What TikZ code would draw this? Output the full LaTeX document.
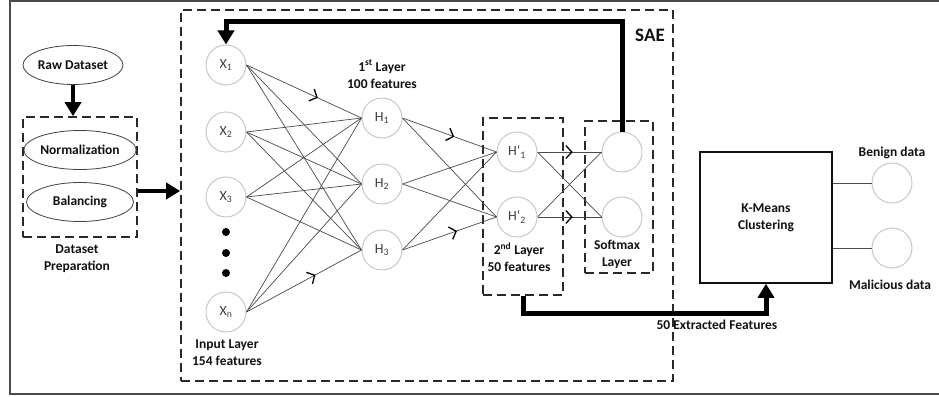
\documentclass[tikz,border=0pt]{standalone}
\usepackage{fontspec}
\setmainfont{Carlito}
\usetikzlibrary{calc, positioning, shapes.geometric, arrows.meta, decorations.markings}
\definecolor{ink}{HTML}{111111}
\definecolor{rim}{HTML}{C8C8C8}
\definecolor{greyt}{HTML}{3F3F3F}
\definecolor{edge}{HTML}{4A4A4A}

\begin{document}
\begin{tikzpicture}[x=1pt, y=-1pt,
    every node/.style={font=\fontsize{13.5}{17}\selectfont\bfseries, text=ink, align=center},
    neuron/.style={circle, draw=rim, line width=1pt, fill=white, minimum size=40pt, inner sep=0pt, font=\fontsize{14}{16}\selectfont, text=greyt},
    oval/.style={ellipse, draw=ink!80, line width=0.8pt, minimum height=39pt, inner sep=0pt},
    dashbox/.style={draw=ink!90, line width=1.6pt, dash pattern=on 9pt off 5pt, inner sep=0pt},
    dotn/.style={circle, fill=black, minimum size=8pt, inner sep=0pt},
    kbox/.style={draw=ink, line width=1.5pt, minimum width=132pt, minimum height=131pt},
    link/.style={draw=edge, line width=0.7pt},
    tick/.style={postaction={decorate}, decoration={markings, mark=at position #1 with {\arrow{Straight Barb[length=6pt, width=13pt, line width=1.3pt]}}}},
    fat/.style={line width=5pt, draw=black, -{Triangle[length=14pt, width=16pt]}}
  ]
    \useasboundingbox (0,0) rectangle (939,396);
    \draw[edge, line width=1.6pt] (945,1) -- (10,1) -- (10,394) -- (945,394);

    % data preparation
    \node[oval, minimum width=100pt] (raw) at (73,65) {Raw Dataset};
    \node[dashbox, minimum width=114pt, minimum height=120pt] (prep) at (80,177) {};
    \node[oval, minimum width=107pt] (norm) at (80,150) {Normalization};
    \node[oval, minimum width=107pt] (bal) at (80,202) {Balancing};
    \node (preplbl) at (77,259) {Dataset\\Preparation};

    % SAE frame
    \node[dashbox, minimum width=492pt, minimum height=371pt] (sae) at (427,195.5) {};
    \node[font=\fontsize{19}{21}\selectfont\bfseries] (saelbl) at (650,35) {SAE};

    % input layer
    \node[neuron] (x1) at (226,65) {X\textsubscript{1}};
    \node[neuron] (x2) at (226,132) {X\textsubscript{2}};
    \node[neuron] (x3) at (226,197) {X\textsubscript{3}};
    \node[dotn] (d1) at (226,232) {};
    \node[dotn] (d2) at (226,253) {};
    \node[dotn] (d3) at (226,273) {};
    \node[neuron] (xn) at (226,312) {X\textsubscript{n}};
    \node (inlbl) at (227,353) {Input Layer\\154 features};

    % first hidden layer
    \node[neuron] (h1) at (382,118) {H\textsubscript{1}};
    \node[neuron] (h2) at (382,184) {H\textsubscript{2}};
    \node[neuron] (h3) at (382,250) {H\textsubscript{3}};
    \node (h1lbl) at (382,74) {1\textsuperscript{st} Layer\\100 features};

    % second hidden layer
    \node[dashbox, minimum width=80pt, minimum height=177pt] (l2box) at (523,206.5) {};
    \node[neuron] (hp1) at (517,152) {H`\textsubscript{1}};
    \node[neuron] (hp2) at (517,217) {H`\textsubscript{2}};
    \node (h2lbl) at (519,257) {2\textsuperscript{nd} Layer\\50 features};

    % softmax layer
    \node[dashbox, minimum width=68pt, minimum height=152pt] (smbox) at (619,197) {};
    \node[neuron] (s1) at (622,152) {};
    \node[neuron] (s2) at (622,217) {};
    \node (smlbl) at (617,254) {Softmax\\Layer};

    % clustering
    \node[kbox] (km) at (766,217.5) {K-Means\\Clustering};
    \node[neuron] (ben) at (892,183) {};
    \node[neuron] (mal) at (892,248) {};
    \node (benlbl) at (892,153) {Benign data};
    \node (mallbl) at (890,285) {Malicious data};

    % weights
    \foreach \a in {x1,x2,x3,xn}
      \foreach \b in {h1,h2,h3}
        \draw[link] (\a.east) -- (\b.west);
    \foreach \a in {h1,h2,h3}
      \foreach \b in {hp1,hp2}
        \draw[link] (\a.east) -- (\b.west);
    \foreach \a in {hp1,hp2}
      \foreach \b in {s1,s2}
        \draw[link] (\a.east) -- (\b.west);
    \path[tick=0.62] (x1.east) -- (h1.west);
    \path[tick=0.6] (xn.east) -- (h3.west);
    \path[tick=0.55] (h1.east) -- (hp1.west);
    \path[tick=0.58] (h3.east) -- (hp2.west);
    \path[tick=0.55] (hp1.east) -- (s1.west);
    \path[tick=0.55] (hp2.east) -- (s2.west);

    \draw[link, line width=0.9pt] (km.east |- ben) -- (ben.west);
    \draw[link, line width=0.9pt] (km.east |- mal) -- (mal.west);

    % thick flow arrows
    \coordinate (fb) at (0,22);
    \coordinate (out) at (0,313);
    \draw[fat, line width=4.5pt] (raw.south) -- (raw.south |- prep.north);
    \draw[fat, line width=4pt] ([yshift=-14pt]prep.east) -- ([yshift=-14pt]prep.east -| sae.west);
    \draw[fat] (s1.north) -- (s1.north |- fb) -| (x1.north);
    \draw[fat] (l2box.south) -- (l2box.south |- out) -| (km.south);
    \node (outlbl) at (717,325) {50 Extracted Features};
  \end{tikzpicture}
\end{document}
